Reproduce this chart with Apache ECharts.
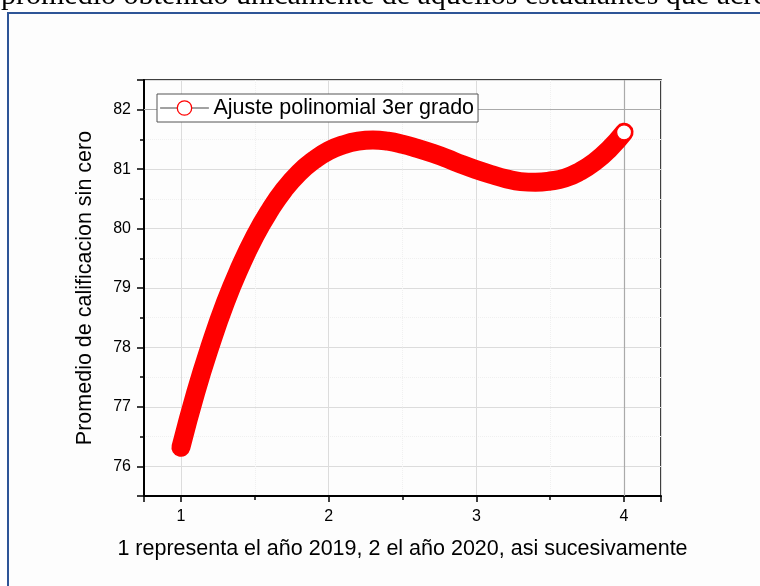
<!DOCTYPE html>
<html>
<head>
<meta charset="utf-8">
<script src="https://cdn.jsdelivr.net/npm/echarts@6/dist/echarts.min.js"></script>
<style>
  html, body { margin: 0; padding: 0; background: #fff; }
  #chart { width: 760px; height: 586px; }
</style>
</head>
<body>
<div id="chart"></div>
<script>
  // curva del ajuste polinomial
  const fitX = [1.0, 1.1, 1.2, 1.3, 1.4, 1.5, 1.6, 1.7, 1.8, 1.9, 2.0, 2.1, 2.2, 2.3, 2.4, 2.5,
    2.6, 2.7, 2.8, 2.9, 3.0, 3.1, 3.2, 3.3, 3.4, 3.5, 3.6, 3.7, 3.8, 3.9, 4.0]
  const fitY = [76.32, 77.24, 78.04, 78.75, 79.35, 79.87, 80.30, 80.66, 80.94, 81.15, 81.31,
    81.41, 81.47, 81.49, 81.47, 81.42, 81.35, 81.27, 81.18, 81.08, 80.99, 80.91, 80.84,
    80.79, 80.78, 80.80, 80.85, 80.96, 81.12, 81.34, 81.62]
  // ultimo punto, visible como circulo hueco
  const lastPoint = [4, 81.62]
  const seriesName = 'Ajuste polinomial 3er grado'
  const xTitle = '1 representa el año 2019, 2 el año 2020, asi sucesivamente'
  const yTitle = 'Promedio de calificacion sin cero'
  const headText = 'promedio obtenido únicamente de aquellos estudiantes que acreditaron'

  const font = 'Liberation Sans, Arial, sans-serif'
  const chart = echarts.init(document.getElementById('chart'))

  chart.setOption({
    animation: false,
    backgroundColor: '#ffffff',
    graphic: [
      {
        type: 'rect',
        z: -10,
        shape: { x: 8, y: 13, width: 800, height: 620 },
        style: { fill: '#fdfdfd', stroke: '#2e5597', lineWidth: 2 }
      },
      {
        type: 'text',
        left: 1,
        top: -19,
        style: { text: headText, fontFamily: 'Liberation Serif, serif', fontSize: 30, fill: '#000' }
      }
    ],
    grid: {
      left: 144,
      right: 99,
      top: 80,
      bottom: 90,
      show: true,
      borderColor: '#000',
      borderWidth: 1.5,
      backgroundColor: 'transparent'
    },
    legend: {
      data: [seriesName],
      left: 157,
      top: 94,
      z: 10,
      orient: 'vertical',
      padding: [3, 4, 3, 3],
      backgroundColor: '#fff',
      borderColor: '#555',
      borderWidth: 1,
      itemWidth: 48,
      itemHeight: 18,
      lineStyle: { color: '#444', width: 1 },
      itemStyle: { color: '#fff', borderColor: '#ff0000', borderWidth: 1.3 },
      textStyle: { fontFamily: font, fontSize: 21.5, color: '#000' }
    },
    xAxis: {
      type: 'value',
      min: 0.75,
      max: 4.25,
      splitNumber: 4,
      name: xTitle,
      nameLocation: 'middle',
      nameGap: 42,
      nameTextStyle: { fontFamily: font, fontSize: 21.5, color: '#000' },
      axisLine: { onZero: false, lineStyle: { color: '#000', width: 2 } },
      axisTick: { length: 6, lineStyle: { color: '#000', width: 1.5 } },
      minorTick: { show: true, splitNumber: 2, length: 4, lineStyle: { color: '#000', width: 1.5 } },
      axisLabel: {
        margin: 13,
        fontFamily: font,
        fontSize: 16,
        color: '#000',
        formatter: (v) => (v % 1 === 0 ? String(v) : '')
      },
      splitLine: { show: true, lineStyle: { color: '#dcdcdc', width: 1 } },
      minorSplitLine: { show: true, lineStyle: { color: '#f0f0f0', type: 'dotted' } }
    },
    yAxis: {
      type: 'value',
      min: 75.5,
      max: 82.5,
      splitNumber: 7,
      name: yTitle,
      nameLocation: 'middle',
      nameGap: 48,
      nameTextStyle: { fontFamily: font, fontSize: 21.5, color: '#000' },
      axisLine: { onZero: false, lineStyle: { color: '#000', width: 2 } },
      axisTick: { length: 7, lineStyle: { color: '#000', width: 1.5 } },
      minorTick: { show: true, splitNumber: 2, length: 4, lineStyle: { color: '#000', width: 1.5 } },
      axisLabel: {
        margin: 13,
        fontFamily: font,
        fontSize: 16,
        color: '#000',
        formatter: (v) => (v % 1 === 0 ? String(v) : '')
      },
      splitLine: { show: true, lineStyle: { color: '#dcdcdc', width: 1 } },
      minorSplitLine: { show: true, lineStyle: { color: '#f0f0f0', type: 'dotted' } }
    },
    series: [
      {
        // lineas de referencia mas oscuras en x=4 y y=82
        type: 'line',
        name: 'ref',
        z: 1,
        data: [],
        silent: true,
        markLine: {
          z: 1,
          silent: true,
          symbol: 'none',
          label: { show: false },
          lineStyle: { color: '#aaaaaa', width: 1.2, type: 'solid' },
          data: [{ xAxis: 4 }, { yAxis: 82 }]
        }
      },
      {
        type: 'line',
        name: seriesName,
        z: 3,
        smooth: true,
        symbol: 'circle',
        showSymbol: false,
        color: '#ff0000',
        lineStyle: { color: '#ff0000', width: 19, cap: 'round', join: 'round' },
        data: fitX.map((x, i) => [x, fitY[i]])
      },
      {
        type: 'scatter',
        name: 'fin',
        z: 4,
        symbol: 'circle',
        symbolSize: 15,
        itemStyle: { color: '#fff', borderColor: '#ff0000', borderWidth: 1.3, opacity: 1 },
        data: [lastPoint]
      }
    ]
  })
</script>
</body>
</html>
